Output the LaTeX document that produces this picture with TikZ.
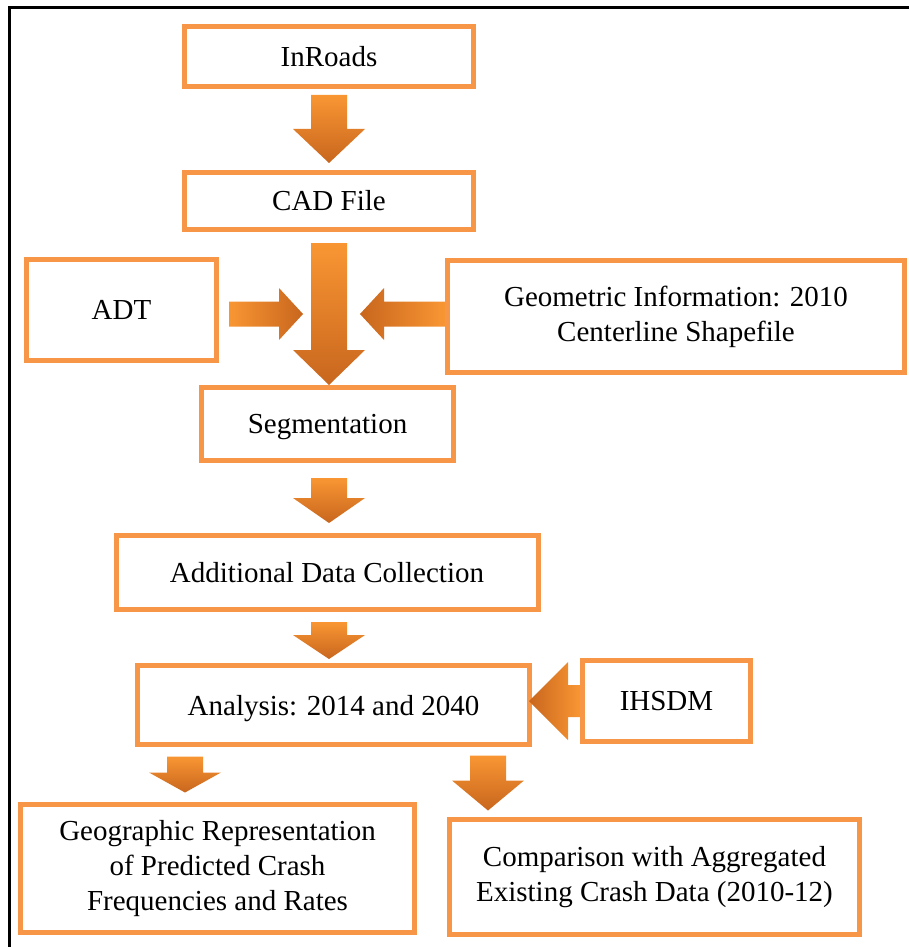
\documentclass[tikz,border=0pt]{standalone}
\usepackage{fontspec}
\setmainfont{Liberation Serif}
\usepackage{xcolor}
\usepackage{tikz}
\usetikzlibrary{calc}

\definecolor{boxorange}{HTML}{F79646}
\definecolor{arrowlight}{HTML}{F99633}
\definecolor{arrowdark}{HTML}{C8661E}

% block arrow: [shading]{from}{to}{start gap}{end gap}{half shaft}{half head}{head length}
\newcommand{\fatarrow}[8][]{%
  \coordinate (fa-s) at #2;
  \coordinate (fa-e) at #3;
  \coordinate (fa-a) at ($(fa-s)!#4!(fa-e)$);
  \coordinate (fa-b) at ($(fa-e)!#5!(fa-s)$);
  \coordinate (fa-h) at ($(fa-b)!#8!(fa-a)$);
  \shade[#1] ($(fa-a)!#6!90:(fa-b)$) -- ($(fa-h)!#6!-90:(fa-a)$) -- ($(fa-h)!#7!-90:(fa-a)$)
    -- (fa-b) -- ($(fa-h)!#7!90:(fa-a)$) -- ($(fa-h)!#6!90:(fa-a)$) -- ($(fa-a)!#6!-90:(fa-b)$) -- cycle;
}

\begin{document}
\begin{tikzpicture}[
        x=1pt, y=-1pt,
        box/.style={draw=boxorange, line width=5pt, fill=white, align=center, inner sep=0pt,
          font=\fontsize{29}{35}\selectfont},
        vshade/.style={top color=arrowlight, bottom color=arrowdark},
        rshade/.style={left color=arrowlight, right color=arrowdark},
        lshade/.style={left color=arrowdark, right color=arrowlight}
    ]
        \useasboundingbox (0,0) rectangle (909,947);

        % Frame
        \draw[line width=3pt] (9.5,947) -- (9.5,8) -- (909,8);

        % Boxes
        \node[box, minimum width=289, minimum height=60] (inroads) at (329,56.5) {InRoads};
        \node[box, minimum width=289, minimum height=57] (cad) at (329,201) {CAD File};
        \node[box, minimum width=190, minimum height=101] (adt) at (121.5,310) {ADT};
        \node[box, minimum width=457, minimum height=112] (geo) at (676,316.5) {Geometric Information: 2010\\Centerline Shapefile};
        \node[box, minimum width=252, minimum height=73, text depth=0pt] (seg) at (327.5,424) {Segmentation};
        \node[box, minimum width=422, minimum height=74] (add) at (327,572.5) {Additional Data Collection};
        \node[box, minimum width=392, minimum height=79, text depth=0pt] (ana) at (333.5,705) {Analysis: 2014 and 2040};
        \node[box, minimum width=168, minimum height=81] (ihsdm) at (666.5,701) {IHSDM};
        \node[box, minimum width=394, minimum height=128] (geog) at (217.5,868.5) {Geographic Representation\\of Predicted Crash\\Frequencies and Rates};
        \node[box, minimum width=410, minimum height=115] (comp) at (654.5,877) {Comparison with Aggregated\\Existing Crash Data (2010-12)};

        \coordinate (merge) at (329,314);

        % Main flow
        \fatarrow[vshade]{(inroads.south)}{(cad.north)}{6pt}{7pt}{18pt}{36pt}{34pt}
        \fatarrow[vshade]{(cad.south -| merge)}{(seg.north -| merge)}{11pt}{0pt}{18pt}{36pt}{35pt}
        \fatarrow[vshade]{(seg.south -| merge)}{(add.north -| merge)}{15pt}{10pt}{18pt}{36pt}{25pt}
        \fatarrow[vshade]{(add.south -| merge)}{(ana.north -| merge)}{10pt}{4pt}{18pt}{36pt}{24pt}

        % Side inputs
        \fatarrow[rshade]{(adt.east |- merge)}{(merge)}{10pt}{26pt}{12.5pt}{26pt}{24pt}
        \fatarrow[lshade]{(geo.west |- merge)}{(merge)}{0pt}{31pt}{12.5pt}{26pt}{24pt}
        \fatarrow[lshade]{(ihsdm.west)}{(ana.east |- ihsdm.west)}{0pt}{-3pt}{16pt}{39pt}{39pt}

        % Outputs
        \fatarrow[vshade]{([xshift=-148.5pt]ana.south)}{([xshift=-148.5pt]ana.south |- geog.north)}{9.5pt}{9.5pt}{18pt}{36pt}{20pt}
        \fatarrow[vshade]{([xshift=154.5pt]ana.south)}{([xshift=154.5pt]ana.south |- comp.north)}{8.5pt}{6.5pt}{18pt}{36pt}{30pt}
    \end{tikzpicture}
\end{document}
